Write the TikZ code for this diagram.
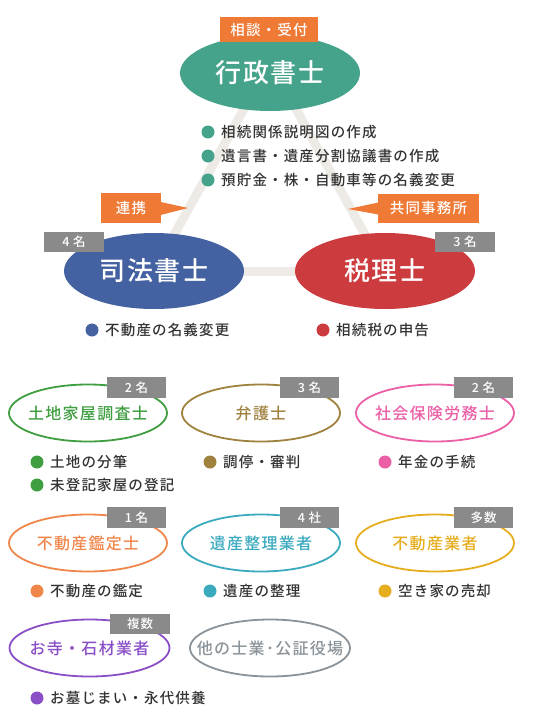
\documentclass[tikz,border=0pt]{standalone}
\usepackage{fontspec}
\setmainfont{Noto Sans CJK JP}[UprightFont={* Medium}]
\usetikzlibrary{shapes.geometric,backgrounds}
\definecolor{cTeal}{HTML}{45A38B}
\definecolor{cBlue}{HTML}{4462A1}
\definecolor{cRed}{HTML}{CC3C3E}
\definecolor{cOrange}{HTML}{EE7A36}
\definecolor{cGray}{HTML}{8A8A8A}
\definecolor{cLine}{HTML}{EEEAE6}
\definecolor{cText}{HTML}{333333}
\definecolor{cGreen}{HTML}{3F9E40}
\definecolor{cBrown}{HTML}{A0823F}
\definecolor{cPink}{HTML}{EA5FA6}
\definecolor{cOrg}{HTML}{F0874A}
\definecolor{cCyan}{HTML}{3BAABF}
\definecolor{cYellow}{HTML}{E6AD1E}
\definecolor{cPurple}{HTML}{8A4FC6}
\definecolor{cSlate}{HTML}{8A9399}
\newcommand{\mybul}[5]{%
  \fill[#2] (#3,#4) circle (6.5pt);
  \node[txt] (#1) at (#3+13,#4) {#5};}
\newcommand{\zb}[1]{\makebox[0pt]{#1}}
\begin{document}
\begin{tikzpicture}[x=1pt,y=-1pt,
  bigell/.style={ellipse, fill=#1, minimum width=180pt, minimum height=76pt, inner sep=0pt, text=white,
     font=\fontsize{26}{26}\selectfont\addfontfeature{LetterSpace=6}},
  smell/.style={ellipse, draw=#1, text=#1, fill=white, line width=1.8pt, minimum width=158pt, minimum height=57pt, inner sep=0pt,
     font=\fontsize{16}{16}\selectfont\addfontfeature{LetterSpace=8}},
  tagbox/.style={fill=cGray, text=white, minimum width=59pt, minimum height=21pt, inner sep=0pt,
     font=\fontsize{12.5}{13}\selectfont\addfontfeature{LetterSpace=8}},
  callout/.style={fill=cOrange, text=white, inner sep=0pt, minimum height=30pt,
     font=\fontsize{14.5}{15}\selectfont\addfontfeature{LetterSpace=8}},
  txt/.style={anchor=west, inner sep=0pt, text=cText, font=\fontsize{14.5}{15}\selectfont\addfontfeature{LetterSpace=8}},
  link/.style={line width=9pt, draw=cLine}
]
\useasboundingbox (0,0) rectangle (540,720);
% --- top triangle ---
\node[bigell=cTeal] (gy) at (270,73) {\zb{行政書士}};
\node[bigell=cBlue] (sh) at (154,271) {\zb{司法書士}};
\node[bigell=cRed] (zr) at (385,271) {\zb{税理士}};
\coordinate (apex) at (270,62);
\begin{scope}[on background layer]
  \draw[link] (apex) -- (sh.center);
  \draw[link] (apex) -- (zr.center);
  \draw[link] (sh.center) -- (zr.center);
\end{scope}
\node[callout, minimum width=98pt, minimum height=25pt] (uketsuke) at (269,29.5) {相談・受付};
\node[tagbox, minimum width=60pt, minimum height=20pt] (t4) at (74,242) {4 名};
\node[tagbox, minimum width=60pt, minimum height=20pt] (t3) at (465,242) {3 名};
% callouts
\node[callout, minimum width=60pt] (renkei) at (131,208) {連携};
\coordinate (tipL) at (188,208);
\fill[cOrange] ([xshift=-0.5pt,yshift=6pt]renkei.east) -- (tipL) -- ([xshift=-0.5pt,yshift=-7pt]renkei.east) -- cycle;
\node[callout, minimum width=101pt, minimum height=29pt] (kyodo) at (428.5,208.5) {共同事務所};
\coordinate (tipR) at (348,209);
\fill[cOrange] ([xshift=0.5pt,yshift=6pt]kyodo.west) -- (tipR) -- ([xshift=0.5pt,yshift=-6pt]kyodo.west) -- cycle;
% bullets top
\mybul{g1}{cTeal}{208}{132}{相続関係説明図の作成}
\mybul{g2}{cTeal}{208}{156}{遺言書・遺産分割協議書の作成}
\mybul{g3}{cTeal}{208}{180}{預貯金・株・自動車等の名義変更}
\mybul{s1}{cBlue}{92}{330}{不動産の名義変更}
\mybul{z1}{cRed}{323}{330}{相続税の申告}
% --- row 1 ---
\node[smell=cGreen] (e1) at (88,413) {\zb{土地家屋調査士}};
\node[tagbox] (e1t) at (136.5,387.5) {2 名};
\node[smell=cBrown] (e2) at (261,413) {\zb{弁護士}};
\node[tagbox] (e2t) at (309.5,387.5) {3 名};
\node[smell=cPink] (e3) at (435,413) {\zb{社会保険労務士}};
\node[tagbox] (e3t) at (483.5,387.5) {2 名};
\mybul{b11}{cGreen}{37}{462}{土地の分筆}
\mybul{b12}{cGreen}{37}{485}{未登記家屋の登記}
\mybul{b21}{cBrown}{210}{462}{調停・審判}
\mybul{b31}{cPink}{385}{462}{年金の手続}
% --- row 2 ---
\node[smell=cOrg] (f1) at (88,543) {\zb{不動産鑑定士}};
\node[tagbox] (f1t) at (136.5,517.5) {1 名};
\node[smell=cCyan] (f2) at (261,543) {\zb{遺産整理業者}};
\node[tagbox] (f2t) at (309.5,517.5) {4 社};
\node[smell=cYellow] (f3) at (435,543) {\zb{不動産業者}};
\node[tagbox] (f3t) at (483.5,517.5) {多数};
\mybul{c11}{cOrg}{37}{591}{不動産の鑑定}
\mybul{c21}{cCyan}{210}{591}{遺産の整理}
\mybul{c31}{cYellow}{385}{591}{空き家の売却}
% --- row 3 ---
\node[smell=cPurple, minimum width=160pt] (h1) at (89.5,648) {\zb{お寺・石材業者}};
\node[tagbox, minimum width=60pt, minimum height=20pt] (h1t) at (140,624) {複数};
\node[smell=cSlate, minimum width=160pt] (h2) at (270,648) {\zb{他の士業･公証役場}};
\mybul{d11}{cPurple}{37}{698}{お墓じまい・永代供養}
\end{tikzpicture}
\end{document}
